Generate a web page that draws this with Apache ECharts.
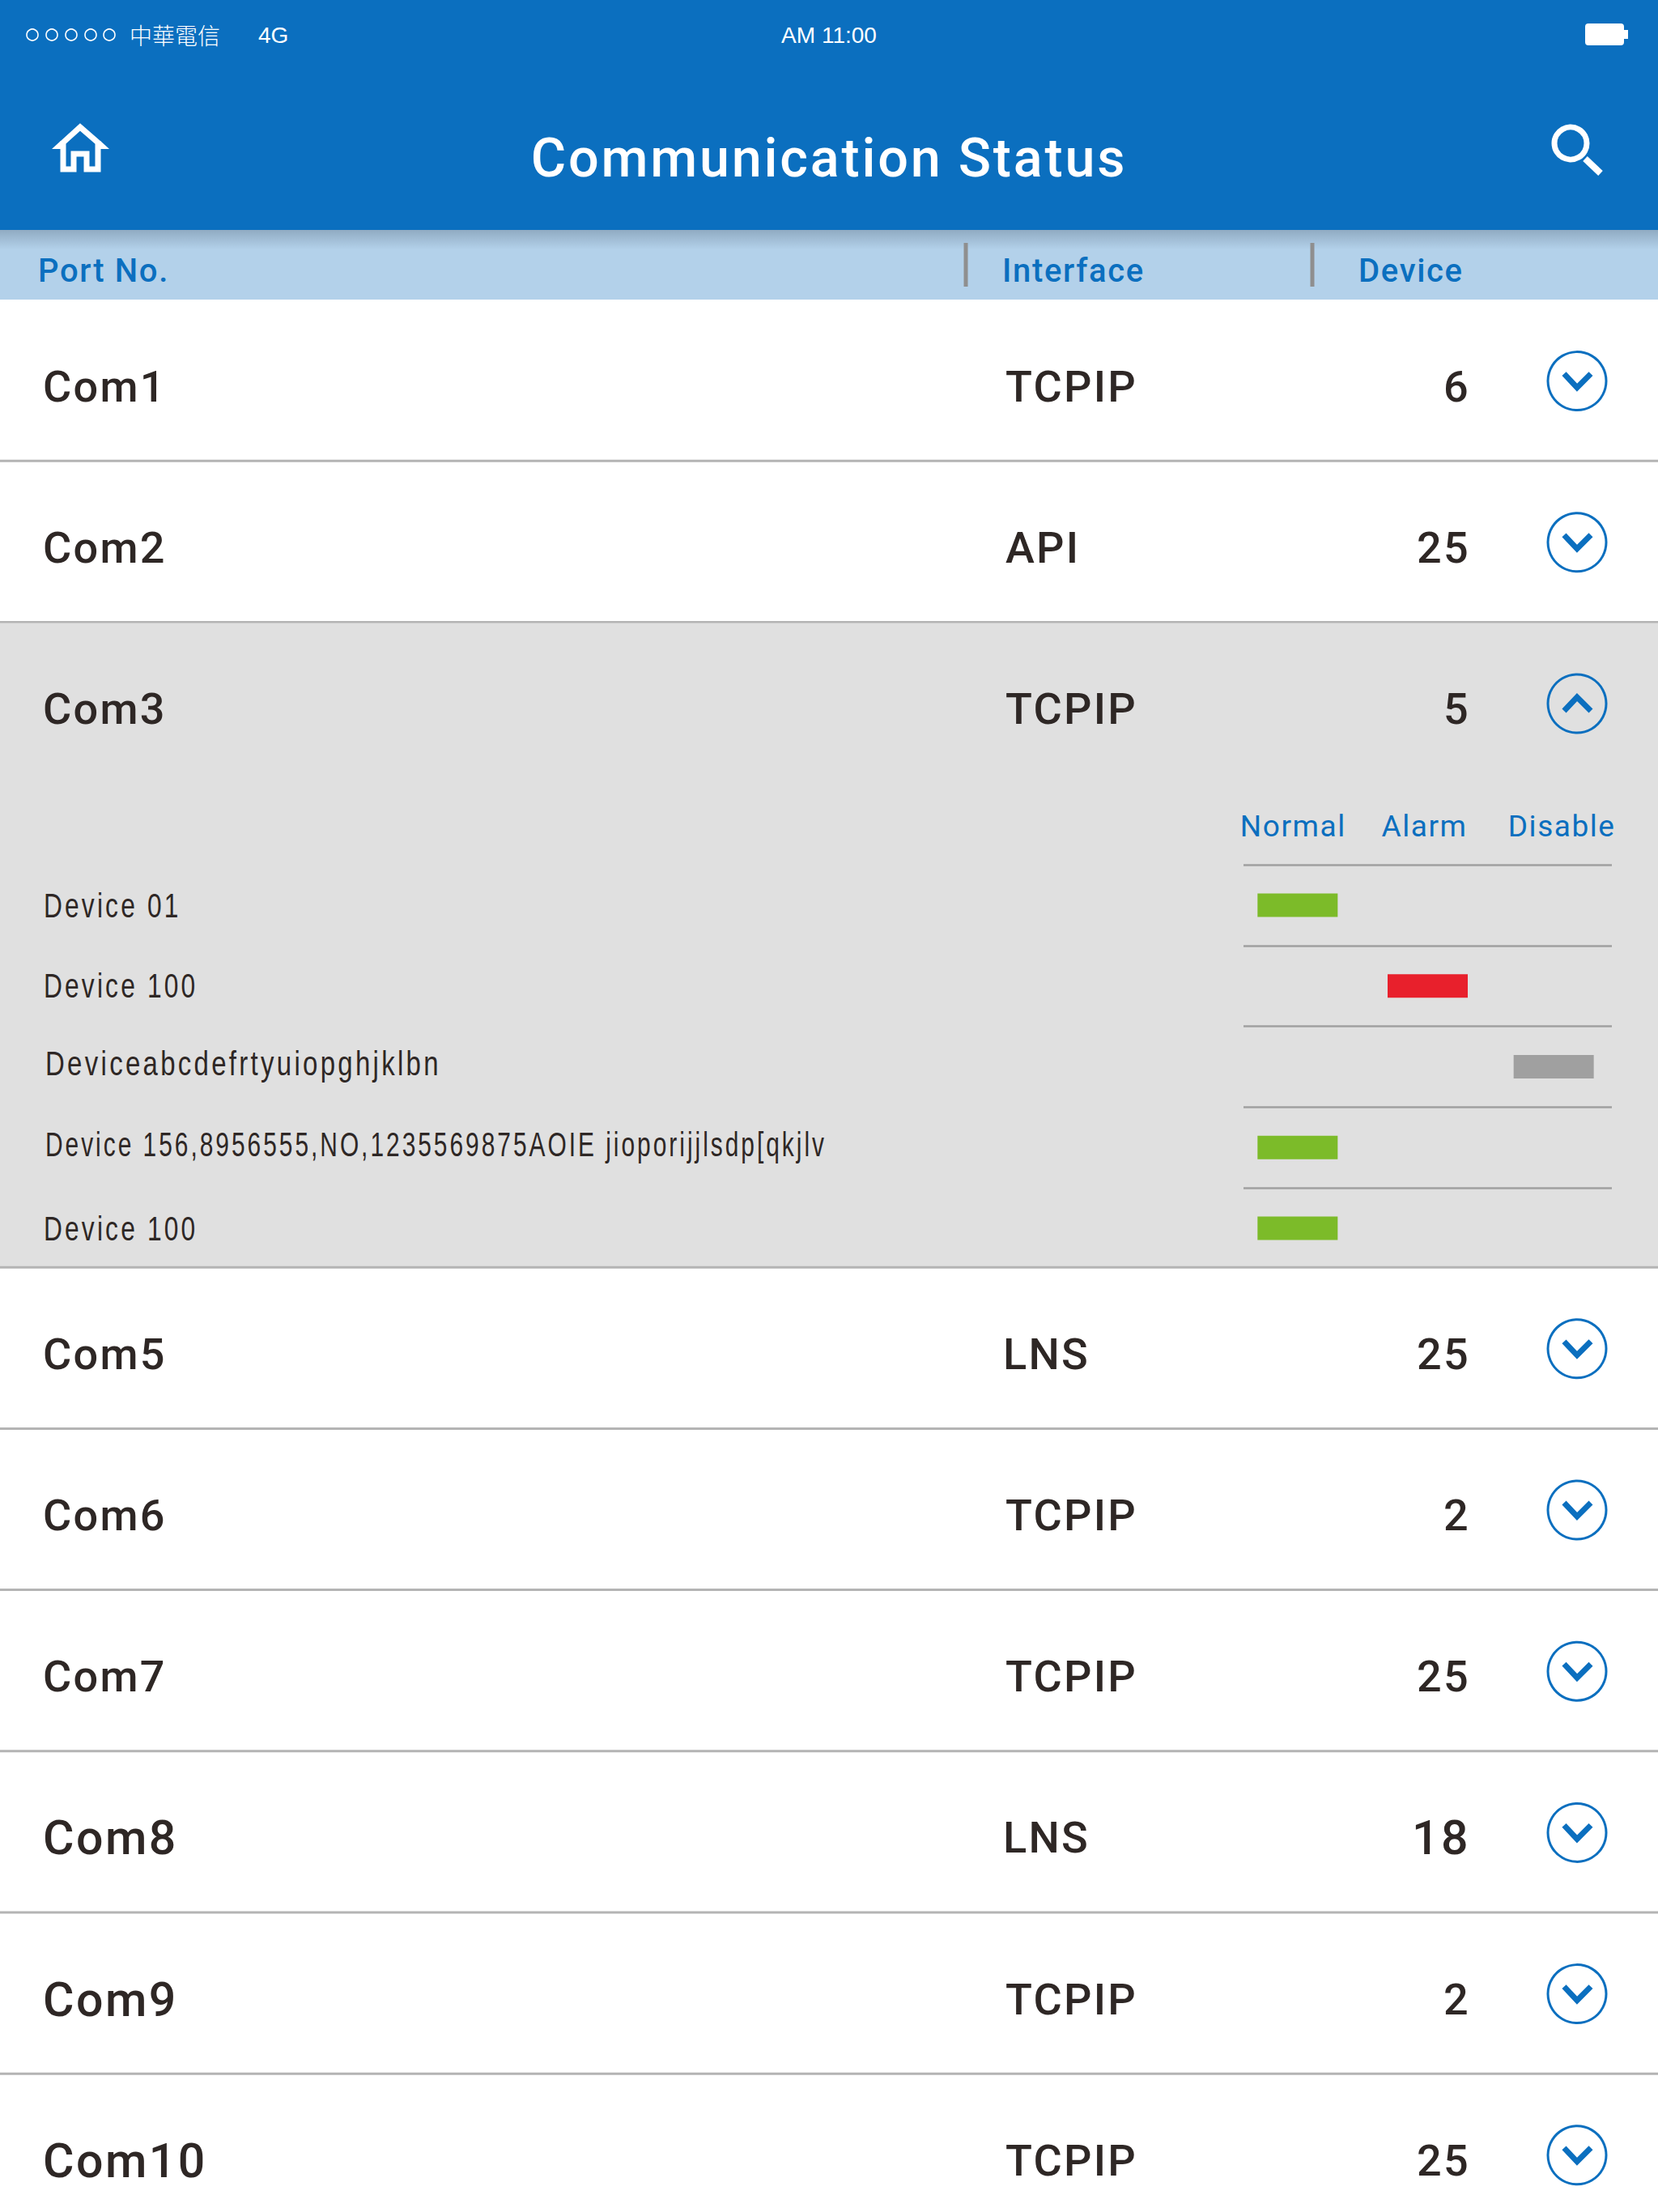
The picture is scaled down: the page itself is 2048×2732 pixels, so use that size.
<!DOCTYPE html>
<html>
<head>
<meta charset="utf-8">
<title>Communication Status</title>
<script src="https://cdn.jsdelivr.net/npm/echarts@6/dist/echarts.min.js"></script>
<style>
  html, body { margin: 0; padding: 0; background: #fff; overflow: hidden; }
  /* last row runs past the window, so the chart is a bit taller than the photo */
  #chart { width: 2048px; height: 2770px; }
  /* the reference text is tracked out, the svg renderer lets css do that */
  #chart svg text { letter-spacing: .042em; }
  #chart svg text[style*="Liberation"] { letter-spacing: .1em; }
  #chart svg text[style*="Arial"], #chart svg text[style*="CJK"] { letter-spacing: 0; }
</style>
</head>
<body>
<div id="chart"></div>
<script>
// table rows
const ports = ['Com1', 'Com2', 'Com3', 'Com5', 'Com6', 'Com7', 'Com8', 'Com9', 'Com10'];
const interfaces = ['TCPIP', 'API', 'TCPIP', 'LNS', 'TCPIP', 'TCPIP', 'LNS', 'TCPIP', 'TCPIP'];
const deviceCounts = [6, 25, 5, 25, 2, 25, 18, 2, 25];
const expandedPort = 'Com3';

// the open row
const detailDevices = ['Device 01', 'Device 100', 'Deviceabcdefrtyuiopghjklbn', 'Device 156,8956555,NO,1235569875AOIE jioporijjlsdp[qkjlv', 'Device 100'];
const detailStates = ['Normal', 'Alarm', 'Disable', 'Normal', 'Normal'];
const stateNames = ['Normal', 'Alarm', 'Disable'];
const stateColors = ['#7cbb29', '#e8202c', '#a0a0a0'];

const columnHeaders = ['Port No.', 'Interface', 'Device'];

const BLUE = '#0b6fbf';
const DARK = '#2e2725';

var chart = echarts.init(document.getElementById('chart'), null, { renderer: 'svg' });

// Com3 is open and takes four row heights
var slotCount = 0;
var rowSlots = ports.map(function (p) {
  var s = slotCount;
  slotCount += p === expandedPort ? 4 : 1;
  return s;
});
var slotNames = [];
for (var i = 0; i < slotCount; i++) slotNames.push('s' + i);

function renderRow(params, api) {
  var idx = api.value(2);
  var port = ports[idx];
  var open = port === expandedPort;
  var h = api.size([0, 1])[1];
  var cy = api.coord([0, api.value(1)])[1];
  var top = cy - h / 2;
  var bottom = top + h * (open ? 4 : 1);
  var textY = cy + 6.5;
  var iconY = cy;
  var children = [];
  if (open) {
    children.push({ type: 'rect', shape: { x: 0, y: top, width: 2048, height: bottom - top }, style: { fill: '#e0e0e0' } });
  }
  var font = { fontFamily: 'Roboto', fontSize: 54, fontWeight: 500, fill: DARK, verticalAlign: 'middle' };
  // Com8 and later are set a little bigger in the reference
  var bigPort = Object.assign({}, font, { fontSize: idx >= 6 ? 59 : 54 });
  var bigCount = Object.assign({}, font, { fontSize: deviceCounts[idx] === 18 ? 59 : 54 });
  children.push({ type: 'text', style: Object.assign({ text: port, x: 53, y: textY, align: 'left' }, bigPort) });
  children.push({ type: 'text', style: Object.assign({ text: interfaces[idx], x: interfaces[idx] === 'LNS' ? 1239 : 1242, y: textY, align: 'left' }, font) });
  children.push({ type: 'text', style: Object.assign({ text: String(deviceCounts[idx]), x: 1816, y: textY, align: 'right' }, bigCount) });
  children.push({ type: 'circle', shape: { cx: 1948, cy: iconY, r: 36 }, style: { fill: 'none', stroke: BLUE, lineWidth: 3 } });
  var d = open ? -1 : 1;
  children.push({
    type: 'polyline',
    shape: { points: [[1932, iconY - 9 * d], [1948, iconY + 8 * d], [1965, iconY - 9 * d]] },
    style: { fill: 'none', stroke: BLUE, lineWidth: 7, lineJoin: 'miter' }
  });
  children.push({ type: 'line', shape: { x1: 0, y1: bottom - 1, x2: 2048, y2: bottom - 1 }, style: { stroke: '#b4b4b4', lineWidth: 3 } });
  return { type: 'group', children: children };
}

// device names are narrow and tracked, axis labels can't be squeezed so they go through a custom series
function renderDeviceName(params, api) {
  var idx = api.value(0);
  var cy = api.coord([0, idx])[1];
  var nudge = (idx === 2 || idx === 3) ? [2, -4] : [0, 0];
  var squeeze = idx === 2 ? 0.785 : idx === 3 ? 0.712 : 0.755;
  return {
    type: 'text',
    x: 54 + nudge[0], y: cy + nudge[1], scaleX: squeeze,
    style: { text: detailDevices[idx], x: 0, y: 0, fontFamily: 'Liberation Sans', fontSize: 42, fill: DARK, align: 'left', verticalAlign: 'middle' }
  };
}

var headerColumnX = [47, 1238, 1678];
var headerSeparatorX = [1193, 1621];

var graphicItems = [
  { type: 'rect', shape: { x: 0, y: 0, width: 2048, height: 284 }, style: { fill: BLUE } },
  { type: 'rect', shape: { x: 0, y: 284, width: 2048, height: 86 }, style: { fill: '#b3d1ea' } },
  {
    type: 'rect', shape: { x: 0, y: 284, width: 2048, height: 24 },
    style: { fill: new echarts.graphic.LinearGradient(0, 0, 0, 1, [
      { offset: 0, color: 'rgba(70,90,110,.32)' }, { offset: 1, color: 'rgba(70,90,110,0)' }
    ]) }
  },
  // status bar
  { type: 'text', style: { text: '中華電信', x: 160, y: 43, fontFamily: 'Noto Sans CJK TC', fontSize: 28, fontWeight: 300, fill: '#fff', verticalAlign: 'middle' } },
  { type: 'text', style: { text: '4G', x: 319, y: 43, fontFamily: 'Arial', fontSize: 28, fill: '#fff', verticalAlign: 'middle' } },
  { type: 'text', style: { text: 'AM 11:00', x: 1024, y: 43, fontFamily: 'Arial', fontSize: 28, fill: '#fff', align: 'center', verticalAlign: 'middle' } },
  { type: 'rect', shape: { x: 1958, y: 29, width: 48, height: 27, r: 4 }, style: { fill: '#fff' } },
  { type: 'rect', shape: { x: 2006, y: 37, width: 5, height: 11 }, style: { fill: '#fff' } },
  // home icon
  {
    type: 'polygon',
    shape: { points: [[78, 209], [78, 176], [99, 157], [121, 176], [121, 209], [107, 209], [107, 190], [91, 190], [91, 209]] },
    style: { fill: 'none', stroke: '#fff', lineWidth: 7 }
  },
  { type: 'polygon', shape: { points: [[64, 184], [75, 184], [75, 174]] }, style: { fill: '#fff' } },
  { type: 'polygon', shape: { points: [[135, 184], [124, 184], [124, 174]] }, style: { fill: '#fff' } },
  // search icon
  { type: 'circle', shape: { cx: 1940, cy: 177, r: 20 }, style: { fill: 'none', stroke: '#fff', lineWidth: 7 } },
  { type: 'line', shape: { x1: 1958, y1: 196, x2: 1977, y2: 214 }, style: { stroke: '#fff', lineWidth: 8 } }
];
[40, 64, 88, 112, 135].forEach(function (x) {
  graphicItems.push({ type: 'circle', shape: { cx: x, cy: 43, r: 7 }, style: { fill: 'none', stroke: '#fff', lineWidth: 1.6 } });
});
columnHeaders.forEach(function (name, i) {
  graphicItems.push({ type: 'text', style: { text: name, x: headerColumnX[i], y: 334, fontFamily: 'Roboto', fontSize: 40, fontWeight: 500, fill: BLUE, verticalAlign: 'middle' } });
});
headerSeparatorX.forEach(function (x) {
  graphicItems.push({ type: 'line', shape: { x1: x, y1: 300, x2: x, y2: 354 }, style: { stroke: '#8f8f8f', lineWidth: 5 } });
});

var stateOffsets = [-9, 0, 4];
var stateSeries = stateNames.map(function (name, s) {
  var data = [];
  detailStates.forEach(function (st, i) {
    if (st === name) data.push([s, i]);
  });
  return {
    type: 'scatter', name: name, xAxisIndex: 1, yAxisIndex: 1, z: 5,
    symbol: 'rect', symbolSize: [99, 29], symbolOffset: [stateOffsets[s], 0],
    itemStyle: { color: stateColors[s], opacity: 1 }, data: data
  };
});

chart.setOption({
  animation: false,
  backgroundColor: '#fff',
  title: {
    text: 'Communication Status', left: 'center', top: 161, padding: 0,
    textStyle: { fontFamily: 'Roboto', fontSize: 66.5, fontWeight: 500, color: '#fff' }
  },
  graphic: graphicItems,
  grid: [
    { left: 0, right: 0, top: 371, height: 199.2 * slotCount },
    { left: 1536, width: 455, top: 1068, height: 499 }
  ],
  xAxis: [
    { type: 'value', gridIndex: 0, min: 0, max: 1, show: false },
    {
      type: 'category', gridIndex: 1, position: 'top', data: stateNames, z: 4,
      axisLine: { show: false }, axisTick: { show: false },
      axisLabel: {
        interval: 0, margin: 29,
        formatter: function (v) { return '{' + v + '|' + v + '}'; },
        fontFamily: 'Roboto', fontSize: 37, color: BLUE,
        rich: {
          Normal: { fontFamily: 'Roboto', fontSize: 37, color: BLUE, padding: [0, 29, 0, 0] },
          Alarm: { fontFamily: 'Roboto', fontSize: 37, color: BLUE, padding: [0, 8, 0, 0] },
          Disable: { fontFamily: 'Roboto', fontSize: 37, color: BLUE, padding: [0, 0, 0, 28] }
        }
      }
    }
  ],
  yAxis: [
    { type: 'category', gridIndex: 0, data: slotNames, inverse: true, show: false },
    {
      type: 'category', gridIndex: 1, inverse: true, z: 4,
      data: detailDevices,
      axisLine: { show: false }, axisTick: { show: false }, axisLabel: { show: false },
      splitLine: { show: true, showMaxLine: false, lineStyle: { color: '#a0a0a0', width: 2.5 } }
    }
  ],
  series: [
    {
      type: 'custom', xAxisIndex: 0, yAxisIndex: 0, z: 1, clip: false,
      renderItem: renderRow,
      data: ports.map(function (p, i) { return [0, rowSlots[i], i]; })
    },
    {
      type: 'custom', xAxisIndex: 1, yAxisIndex: 1, z: 5, clip: false,
      renderItem: renderDeviceName, encode: { x: 1, y: 0 },
      data: detailDevices.map(function (d, i) { return [i, 0]; })
    }
  ].concat(stateSeries)
});
</script>
</body>
</html>
